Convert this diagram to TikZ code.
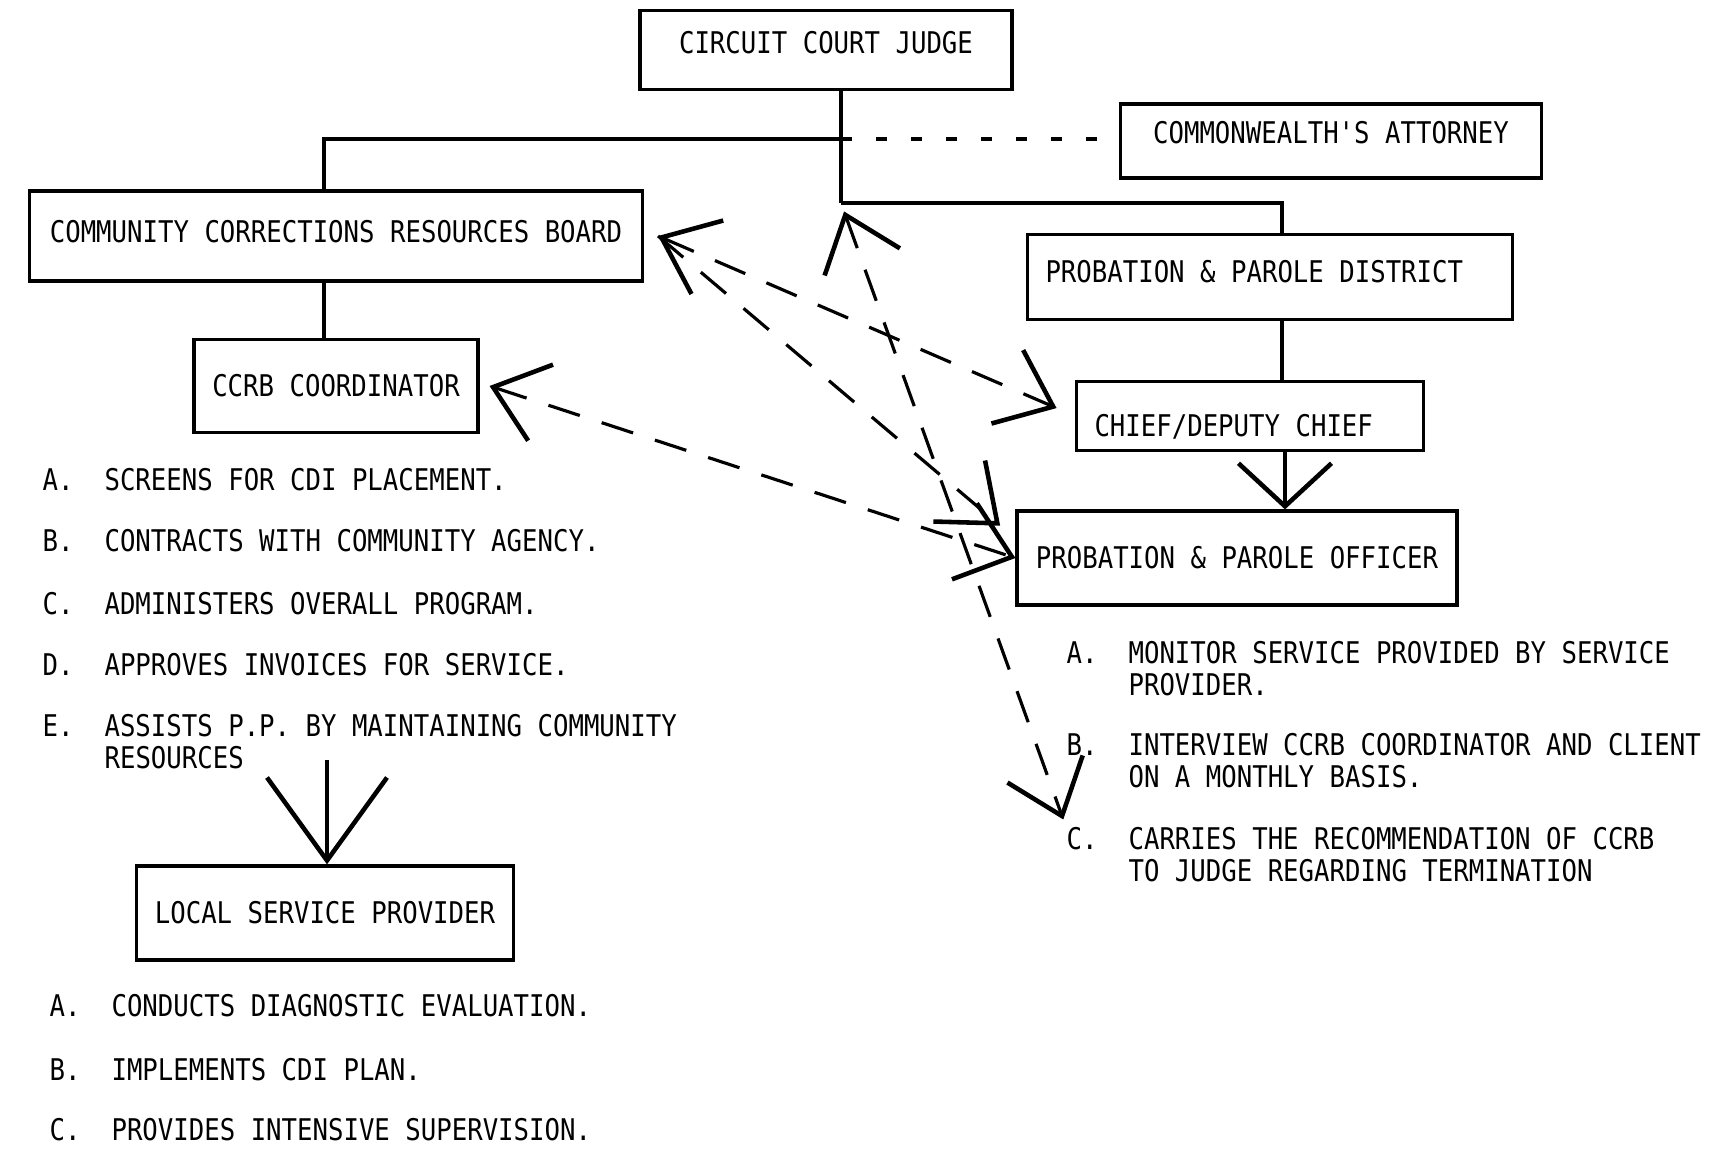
\documentclass[tikz,border=0pt]{standalone}
\usepackage{fontspec}
\setmonofont{DejaVu Sans Mono}[FakeStretch=0.86]
\usetikzlibrary{arrows.meta}
\newcommand{\typeup}[2]{\raisebox{#1}[\height][\depth]{#2}}

\begin{document}
\begin{tikzpicture}[x=0.1mm, y=-0.1mm,
    unit/.style={draw, line width=0.9pt, inner sep=0pt, font=\ttfamily\fontsize{8.5}{9.1}\selectfont},
    leftunit/.style={unit, inner xsep=1.8mm},
    duty/.style={anchor=north west, inner sep=0pt, align=left, font=\ttfamily\fontsize{8.5}{9.1}\selectfont\frenchspacing},
    wire/.style={line width=0.9pt},
    link/.style={line width=0.9pt, dash pattern=on 3.3mm off 2.3mm},
    >={Straight Barb[length=5mm, width=8mm, line width=1.3pt]}]
      \useasboundingbox (0,0) rectangle (1715,1160);

      % boxes
      \node [unit, minimum width=37.2mm, minimum height=7.9mm] (judge) at (826,50) {\typeup{0.7mm}{CIRCUIT COURT JUDGE}};
      \node [unit, minimum width=42.1mm, minimum height=7.4mm] (attorney) at (1331,141) {\typeup{0.8mm}{COMMONWEALTH'S ATTORNEY}};
      \node [unit, minimum width=61.3mm, minimum height=9mm] (board) at (336,236) {\typeup{0.4mm}{COMMUNITY CORRECTIONS RESOURCES BOARD}};
      \node [leftunit, minimum height=8.5mm] (district) at (1270,277) {\typeup{0.5mm}{\makebox[44.9mm][l]{PROBATION \& PAROLE DISTRICT}}};
      \node [unit, minimum width=28.4mm, minimum height=9.3mm] (coord) at (336,386) {CCRB COORDINATOR};
      \node [leftunit, minimum height=6.9mm] (chief) at (1250,416) {\typeup{-1.1mm}{\makebox[31.1mm][l]{CHIEF/DEPUTY CHIEF}}};
      \node [unit, minimum width=44mm, minimum height=9.4mm] (officer) at (1237,558) {PROBATION \& PAROLE OFFICER};
      \node [unit, minimum width=37.7mm, minimum height=9.4mm] (provider) at (325,913) {LOCAL SERVICE PROVIDER};

      % duties
      \node [duty] (sA) at (42,468) {A.~~SCREENS FOR CDI PLACEMENT.};
      \node [duty] (sB) at (42,529) {B.~~CONTRACTS WITH COMMUNITY AGENCY.};
      \node [duty] (sC) at (42,592) {C.~~ADMINISTERS OVERALL PROGRAM.};
      \node [duty] (sD) at (42,653) {D.~~APPROVES INVOICES FOR SERVICE.};
      \node [duty] (sE) at (42,714) {E.~~ASSISTS P.P. BY MAINTAINING COMMUNITY\\\hphantom{E.~~}RESOURCES};

      \node [duty] (pA) at (49,994) {A.~~CONDUCTS DIAGNOSTIC EVALUATION.};
      \node [duty] (pB) at (49,1058) {B.~~IMPLEMENTS CDI PLAN.};
      \node [duty] (pC) at (49,1118) {C.~~PROVIDES INTENSIVE SUPERVISION.};

      \node [duty] (oA) at (1066,641) {A.~~MONITOR SERVICE PROVIDED BY SERVICE\\\hphantom{A.~~}PROVIDER.};
      \node [duty] (oB) at (1066,733) {B.~~INTERVIEW CCRB COORDINATOR AND CLIENT\\\hphantom{B.~~}ON A MONTHLY BASIS.};
      \node [duty] (oC) at (1066,827) {C.~~CARRIES THE RECOMMENDATION OF CCRB\\\hphantom{C.~~}TO JUDGE REGARDING TERMINATION};

      % lines of authority
      \coordinate (split) at (841,139);
      \coordinate (branch) at (841,203);
      \coordinate (feed) at (327,760);
      \draw [wire] (judge.south -| split) -- (split) -- (branch);
      \draw [wire] (split) -| ([xshift=-1.2mm]board.north);
      \draw [wire, dash pattern=on 1.1mm off 2.4mm] (split) -- (split -| attorney.west);
      \draw [wire] (branch) -| ([xshift=1.2mm]district.north);
      \draw [wire] ([xshift=-1.2mm]board.south) -- ([xshift=-1.2mm]board.south |- coord.north);
      \draw [wire] ([xshift=1.2mm]district.south) -- ([xshift=1.2mm]district.south |- chief.north);
      \draw [wire, -{Straight Barb[length=4.3mm, width=9.3mm, line width=1.3pt]}] ([xshift=3.5mm]chief.south) -- ([xshift=3.5mm]chief.south |- officer.north);
      \draw [wire, -{Straight Barb[length=8.3mm, width=12mm, line width=1.3pt]}] (feed) -- (feed |- provider.north);

      % communication
      \draw [link, <->, shorten >=2mm] ([xshift=1.4mm]board.east) -- (chief.west);
      \draw [link, ->, shorten >=2mm] ([xshift=1.4mm]board.east) -- (officer.175);
      \draw [link, <->] ([xshift=1mm]coord.east) -- (officer.west);
      \draw [link, <->, shorten <=0.9mm, shorten >=0.8mm] (branch) -- (oC.north west);
\end{tikzpicture}
\end{document}
